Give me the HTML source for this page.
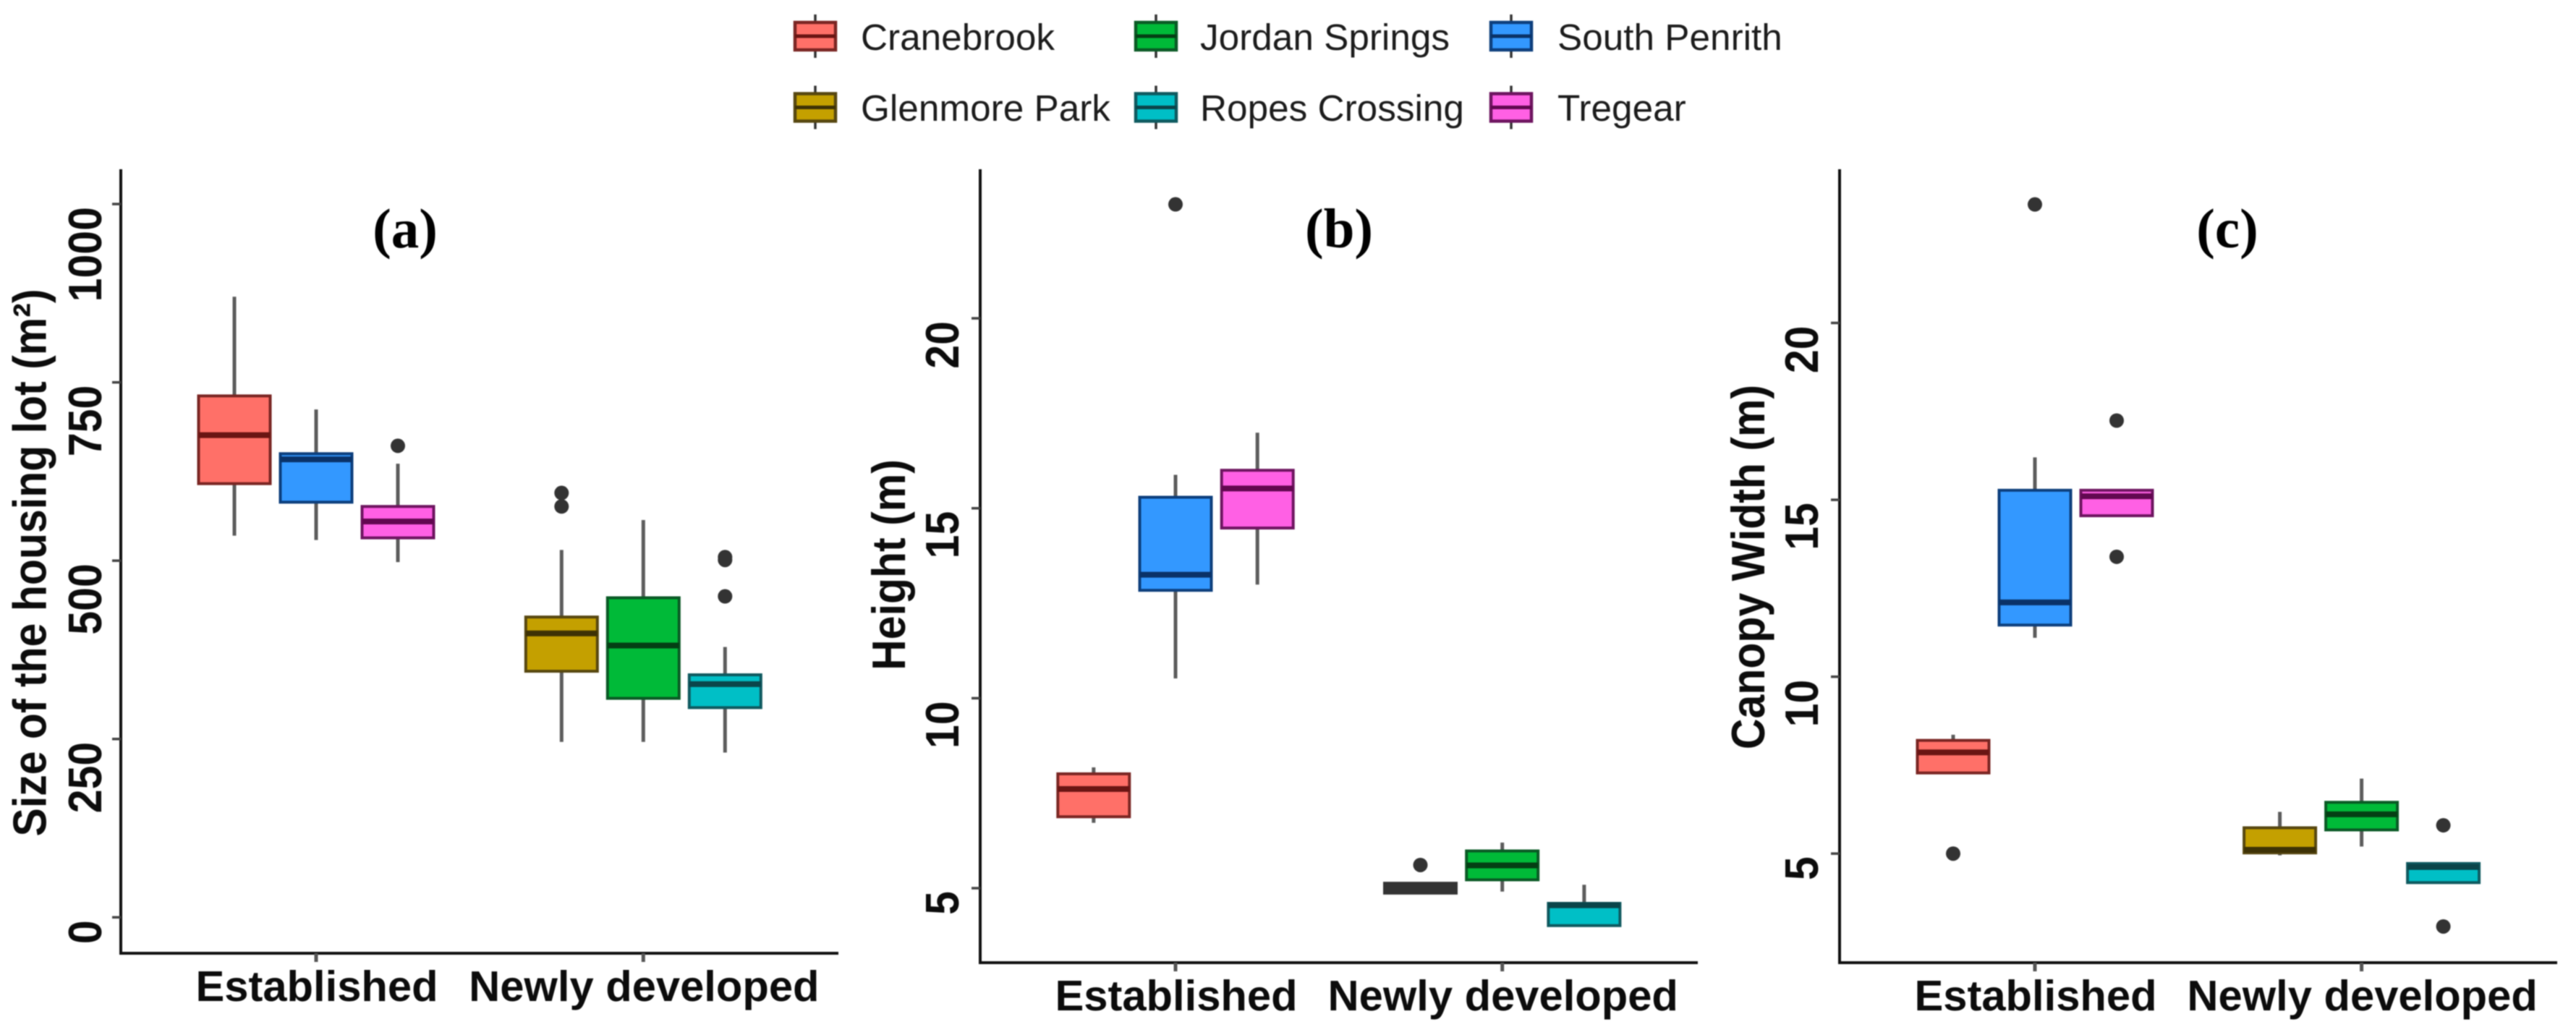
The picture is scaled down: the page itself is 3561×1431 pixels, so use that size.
<!DOCTYPE html>
<html lang="en">
<head>
<meta charset="utf-8">
<title>Housing lot size, tree height and canopy width by suburb</title>
<style>
  html, body { margin: 0; padding: 0; background: #fff; width: 3561px; height: 1431px; overflow: hidden; }
  svg { display: block; filter: blur(0.7px); }
  text { font-family: "Liberation Sans", sans-serif; }
  .bold { font-weight: 700; fill: #0c0c0c; font-size: 59px; }
  .tag { font-family: "Liberation Serif", serif; font-weight: 700; font-size: 77px; fill: #000; text-anchor: middle; }
  .legend-text { font-size: 51.3px; fill: #1c1c1c; }
</style>
</head>
<body>
<svg id="chart" xmlns="http://www.w3.org/2000/svg" width="3561" height="1431" viewBox="0 0 3561 1431"></svg>
<script>
// Shared categories. Slot order within each group is fixed by the plot.
const groups = ['Established', 'Newly developed'];
const sites = ['Cranebrook', 'South Penrith', 'Tregear', 'Glenmore Park', 'Jordan Springs', 'Ropes Crossing'];
const siteGroup = [0, 0, 0, 1, 1, 1];
const siteSlot = [0, 1, 2, 0, 1, 2];
const legendOrder = ['Cranebrook', 'Glenmore Park', 'Jordan Springs', 'Ropes Crossing', 'South Penrith', 'Tregear'];

// (a) Size of the housing lot (m2)
const lotTicks = [0, 250, 500, 750, 1000];
const lotLow = [535, 529, 498, 246, 246, 231];
const lotQ1 = [608, 582, 532, 345, 307, 294];
const lotMedian = [676, 642, 555, 398, 381, 327];
const lotQ3 = [731, 650, 576, 421, 448, 340];
const lotHigh = [870, 712, 636, 515, 557, 379];
const lotOutliers = [[], [], [661], [595, 576], [], [505, 501, 450]];

// (b) Height (m)
const heightTicks = [5, 10, 15, 20];
const heightLow = [6.72, 10.52, 12.99, 4.87, 4.91, 4.015];
const heightQ1 = [6.88, 12.84, 14.48, 4.87, 5.22, 4.015];
const heightMedian = [7.61, 13.25, 15.52, 5.0, 5.6, 4.55];
const heightQ3 = [8.01, 15.29, 16.0, 5.13, 5.98, 4.6];
const heightHigh = [8.18, 15.88, 16.99, 5.13, 6.2, 5.09];
const heightOutliers = [[], [23.0], [], [5.61], [], []];

// (c) Canopy width (m)
const canopyTicks = [5, 10, 15, 20];
const canopyLow = [7.28, 11.1, 14.55, 4.95, 5.2, 4.18];
const canopyQ1 = [7.28, 11.46, 14.55, 5.02, 5.67, 4.18];
const canopyMedian = [7.86, 12.1, 15.1, 5.11, 6.11, 4.62];
const canopyQ3 = [8.2, 15.27, 15.27, 5.73, 6.45, 4.72];
const canopyHigh = [8.36, 16.2, 15.27, 6.18, 7.12, 4.72];
const canopyOutliers = [[5], [23.35], [17.24, 13.39], [], [], [5.8, 2.94]];

const SVG_NS = 'http://www.w3.org/2000/svg';
const root = document.getElementById('chart');

const fills = { 'Cranebrook': '#ff7068', 'South Penrith': '#3398ff', 'Tregear': '#ff60e4',
                'Glenmore Park': '#c4a000', 'Jordan Springs': '#00ba38', 'Ropes Crossing': '#00bfc6' };
const edges = { 'Cranebrook': '#7a2623', 'South Penrith': '#0d3f7d', 'Tregear': '#6e1560',
                'Glenmore Park': '#574710', 'Jordan Springs': '#0a5a25', 'Ropes Crossing': '#0f5a60' };
const medians = { 'Cranebrook': '#6a1513', 'South Penrith': '#0a3268', 'Tregear': '#620850',
                  'Glenmore Park': '#3e3205', 'Jordan Springs': '#043f14', 'Ropes Crossing': '#0b454a' };

function slug(s) { return s.toLowerCase().replace(/[^a-z0-9]+/g, '-'); }

function mk(tag, attrs, parent, text) {
  const el = document.createElementNS(SVG_NS, tag);
  for (const k in attrs) el.setAttribute(k, attrs[k]);
  if (text !== undefined) el.textContent = text;
  parent.appendChild(el);
  return el;
}

function makeY(v0, px0, v1, px1) {
  return function (v) { return px0 + (v - v0) * (px1 - px0) / (v1 - v0); };
}

function makeX(first, groupGap, dodge) {
  return function (group, slot) { return first + group * groupGap + (slot - 1) * dodge; };
}

function drawPanel(p) {
  const g = mk('g', {}, root);
  
  

  const yAxis = mk('line', { x1: p.axisX, x2: p.axisX, y1: 234, y2: p.axisY + 2, stroke: '#111', 'stroke-width': 4 }, g);
  
  
  const xAxis = mk('line', { x1: p.axisX - 2, x2: p.axisEnd, y1: p.axisY, y2: p.axisY, stroke: '#111', 'stroke-width': 4 }, g);
  
  

  p.ticks.forEach(function (t) {
    const py = p.y(t);
    const tick = mk('line', { x1: p.axisX - 12, x2: p.axisX, y1: py, y2: py, stroke: '#444', 'stroke-width': 3.5 }, g);
    
    
    const label = mk('text', { class: 'bold', 'text-anchor': 'end', transform: 'translate(' + p.tickBaseX + ',' + (py + 4) + ') rotate(-90) scale(1,1.1)' }, g, String(t));
    
    
  });

  groups.forEach(function (name, i) {
    const px = p.x(i, 1);
    const tick = mk('line', { x1: px, x2: px, y1: p.axisY, y2: p.axisY + 12, stroke: '#555', 'stroke-width': 5 }, g);
    
    
    const label = mk('text', { class: 'bold', 'text-anchor': 'middle', transform: 'translate(' + (px + 1) + ',' + p.xLabelY + ') scale(1.012,1)' }, g, name);
    
    
  });

  const title = mk('text', { class: 'bold', 'text-anchor': 'middle', transform: 'translate(' + p.titleX + ',' + p.titleY + ') rotate(-90) scale(1,1.1)' }, g, p.title);
  
  

  const tag = mk('text', { class: 'tag', x: p.tagX, y: 342 }, g, p.tag);
  
  

  sites.forEach(function (site, i) {
    const cx = p.x(siteGroup[i], siteSlot[i]);
    const w = 99;
    const box = mk('g', {}, g);
    
    

    const upper = mk('line', { x1: cx, x2: cx, y1: p.y(p.q3[i]), y2: p.y(p.high[i]), stroke: '#5c5c5c', 'stroke-width': 5 }, box);
    
    
    const lower = mk('line', { x1: cx, x2: cx, y1: p.y(p.q1[i]), y2: p.y(p.low[i]), stroke: '#5c5c5c', 'stroke-width': 5 }, box);
    
    

    const top = p.y(p.q3[i]);
    const bottom = p.y(p.q1[i]);
    // A box too thin to show its fill reads as a solid dark bar in the plot.
    const collapsed = bottom - top < 20;
    const rect = mk('rect', { x: cx - w / 2, y: top, width: w, height: bottom - top,
      fill: collapsed ? '#333' : fills[site], stroke: collapsed ? '#333' : edges[site], 'stroke-width': 4 }, box);
    
    

    const my = p.y(p.median[i]);
    const med = mk('line', { x1: cx - w / 2, x2: cx + w / 2, y1: my, y2: my, stroke: collapsed ? '#333' : medians[site], 'stroke-width': 8 }, box);
    
    

    p.outliers[i].forEach(function (v) {
      const dot = mk('circle', { cx: cx, cy: p.y(v), r: 10, fill: '#333' }, box);
      
      
    });
  });
}

const panels = [
  { key: 'a', title: 'Size of the housing lot (m\u00B2)', tag: '(a)', tagX: 560,
    axisX: 167, axisY: 1318, axisEnd: 1159, tickBaseX: 140, titleX: 63.5, titleY: 778, xLabelY: 1384,
    x: makeX(437, 452.3, 113), y: makeY(0, 1268.3, 1000, 282.1), ticks: lotTicks,
    low: lotLow, q1: lotQ1, median: lotMedian, q3: lotQ3, high: lotHigh, outliers: lotOutliers },
  { key: 'b', title: 'Height (m)', tag: '(b)', tagX: 1851,
    axisX: 1355, axisY: 1331, axisEnd: 2347, tickBaseX: 1325, titleX: 1251, titleY: 781, xLabelY: 1397,
    x: makeX(1625, 451.7, 113.2), y: makeY(5, 1228, 20, 440.1), ticks: heightTicks,
    low: heightLow, q1: heightQ1, median: heightMedian, q3: heightQ3, high: heightHigh, outliers: heightOutliers },
  { key: 'c', title: 'Canopy Width (m)', tag: '(c)', tagX: 3079,
    axisX: 2543, axisY: 1331, axisEnd: 3535, tickBaseX: 2513, titleX: 2439, titleY: 784, xLabelY: 1397,
    x: makeX(2813, 451.6, 113), y: makeY(5, 1180.2, 20, 446.5), ticks: canopyTicks,
    low: canopyLow, q1: canopyQ1, median: canopyMedian, q3: canopyQ3, high: canopyHigh, outliers: canopyOutliers }
];
panels.forEach(drawPanel);

// Legend: 3 columns by 2 rows, filled column-first.
const legend = mk('g', {}, root);


const legendKeyX = [1127, 1598, 2089];
const legendTextX = [1190, 1659, 2153];
const legendRowY = [50, 148.5];
const legendBaseY = [69, 167];
legendOrder.forEach(function (site, i) {
  const col = Math.floor(i / 2);
  const row = i % 2;
  const cx = legendKeyX[col];
  const cy = legendRowY[row];
  const entry = mk('g', {}, legend);
  
  
  mk('line', { x1: cx, x2: cx, y1: cy - 30, y2: cy + 30, stroke: '#333', 'stroke-width': 3.5 }, entry);
  mk('rect', { x: cx - 28, y: cy - 19, width: 56, height: 38, fill: fills[site], stroke: edges[site], 'stroke-width': 4.5 }, entry);
  mk('line', { x1: cx - 28, x2: cx + 28, y1: cy, y2: cy, stroke: medians[site], 'stroke-width': 5 }, entry);
  const label = mk('text', { class: 'legend-text', x: legendTextX[col], y: legendBaseY[row] }, entry, site);
  
  
});
</script>
</body>
</html>
